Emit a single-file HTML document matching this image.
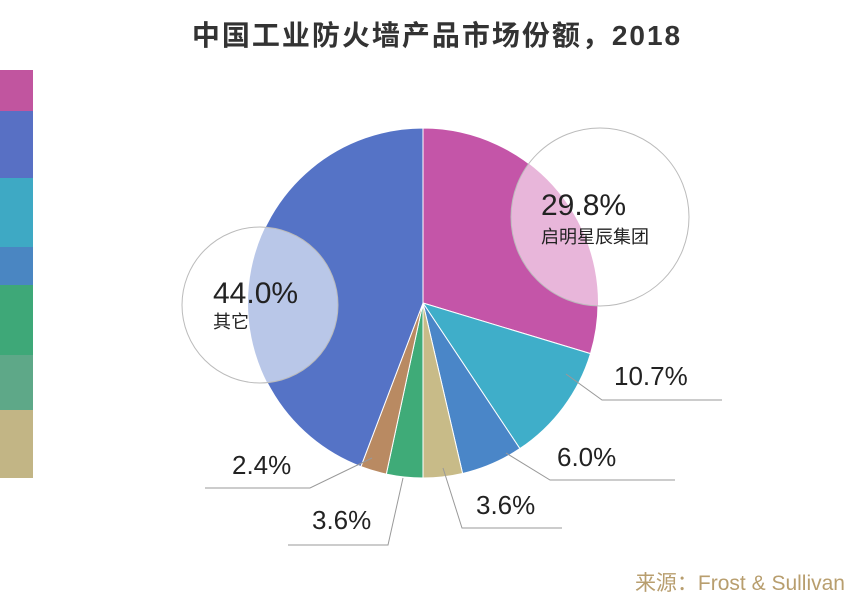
<!DOCTYPE html>
<html><head><meta charset="utf-8"><style>
body{margin:0;background:#fff;}
svg{display:block;font-family:"Liberation Sans","Noto Sans CJK SC",sans-serif;}
</style></head><body>
<svg width="857" height="605" viewBox="0 0 857 605">
<defs>
<clipPath id="pie"><circle cx="423" cy="303" r="175"/></clipPath>
</defs>
<text x="437" y="45" text-anchor="middle" font-size="28" font-weight="bold" letter-spacing="2" fill="#333">中国工业防火墙产品市场份额，2018</text>
<rect x="0" y="70" width="33" height="41" fill="#c1559f"/>
<rect x="0" y="111" width="33" height="67" fill="#5870c4"/>
<rect x="0" y="178" width="33" height="69" fill="#3ea9c4"/>
<rect x="0" y="247" width="33" height="38" fill="#4a86c2"/>
<rect x="0" y="285" width="33" height="70" fill="#3ea878"/>
<rect x="0" y="355" width="33" height="55" fill="#5ea888"/>
<rect x="0" y="410" width="33" height="68" fill="#c2b585"/>
<g stroke="#fff" stroke-width="1">
<path d="M423 303 L423.0 128.0 A175 175 0 0 1 590.5 353.6 Z" fill="#c455a8"/>
<path d="M423 303 L590.5 353.6 A175 175 0 0 1 519.9 448.6 Z" fill="#3faec9"/>
<path d="M423 303 L519.9 448.6 A175 175 0 0 1 462.6 473.5 Z" fill="#4a86c8"/>
<path d="M423 303 L462.6 473.5 A175 175 0 0 1 423.0 478.0 Z" fill="#c8bb88"/>
<path d="M423 303 L423.0 478.0 A175 175 0 0 1 386.3 474.1 Z" fill="#3fab78"/>
<path d="M423 303 L386.3 474.1 A175 175 0 0 1 360.9 466.6 Z" fill="#b98a62"/>
<path d="M423 303 L360.9 466.6 A175 175 0 0 1 423.0 128.0 Z" fill="#5573c6"/>
</g>
<g clip-path="url(#pie)">
<circle cx="600" cy="217" r="89" fill="#e8b6da"/>
<circle cx="260" cy="305" r="78" fill="#b9c7e8"/>
</g>
<circle cx="600" cy="217" r="89" fill="none" stroke="#bbb" stroke-width="1"/>
<circle cx="260" cy="305" r="78" fill="none" stroke="#bbb" stroke-width="1"/>
<g fill="#222">
<text x="541" y="215" font-size="30">29.8%</text>
<text x="541" y="243" font-size="18">启明星辰集团</text>
<text x="213" y="303" font-size="30">44.0%</text>
<text x="213" y="328" font-size="18">其它</text>
<text x="614" y="385" font-size="26">10.7%</text>
<text x="557" y="466" font-size="26">6.0%</text>
<text x="476" y="514" font-size="26">3.6%</text>
<text x="312" y="529" font-size="26">3.6%</text>
<text x="232" y="474" font-size="26">2.4%</text>
</g>
<g fill="none" stroke="#999" stroke-width="1">
<polyline points="566,374 602,400 722,400"/>
<polyline points="506,453 550,480 675,480"/>
<polyline points="443,468 462,528 562,528"/>
<polyline points="403,478 388,545 288,545"/>
<polyline points="372,458 310,488 205,488"/>
</g>
<text x="845" y="590" text-anchor="end" font-size="21" fill="#b89e6e">来源：Frost &amp; Sullivan</text>
</svg>
</body></html>
